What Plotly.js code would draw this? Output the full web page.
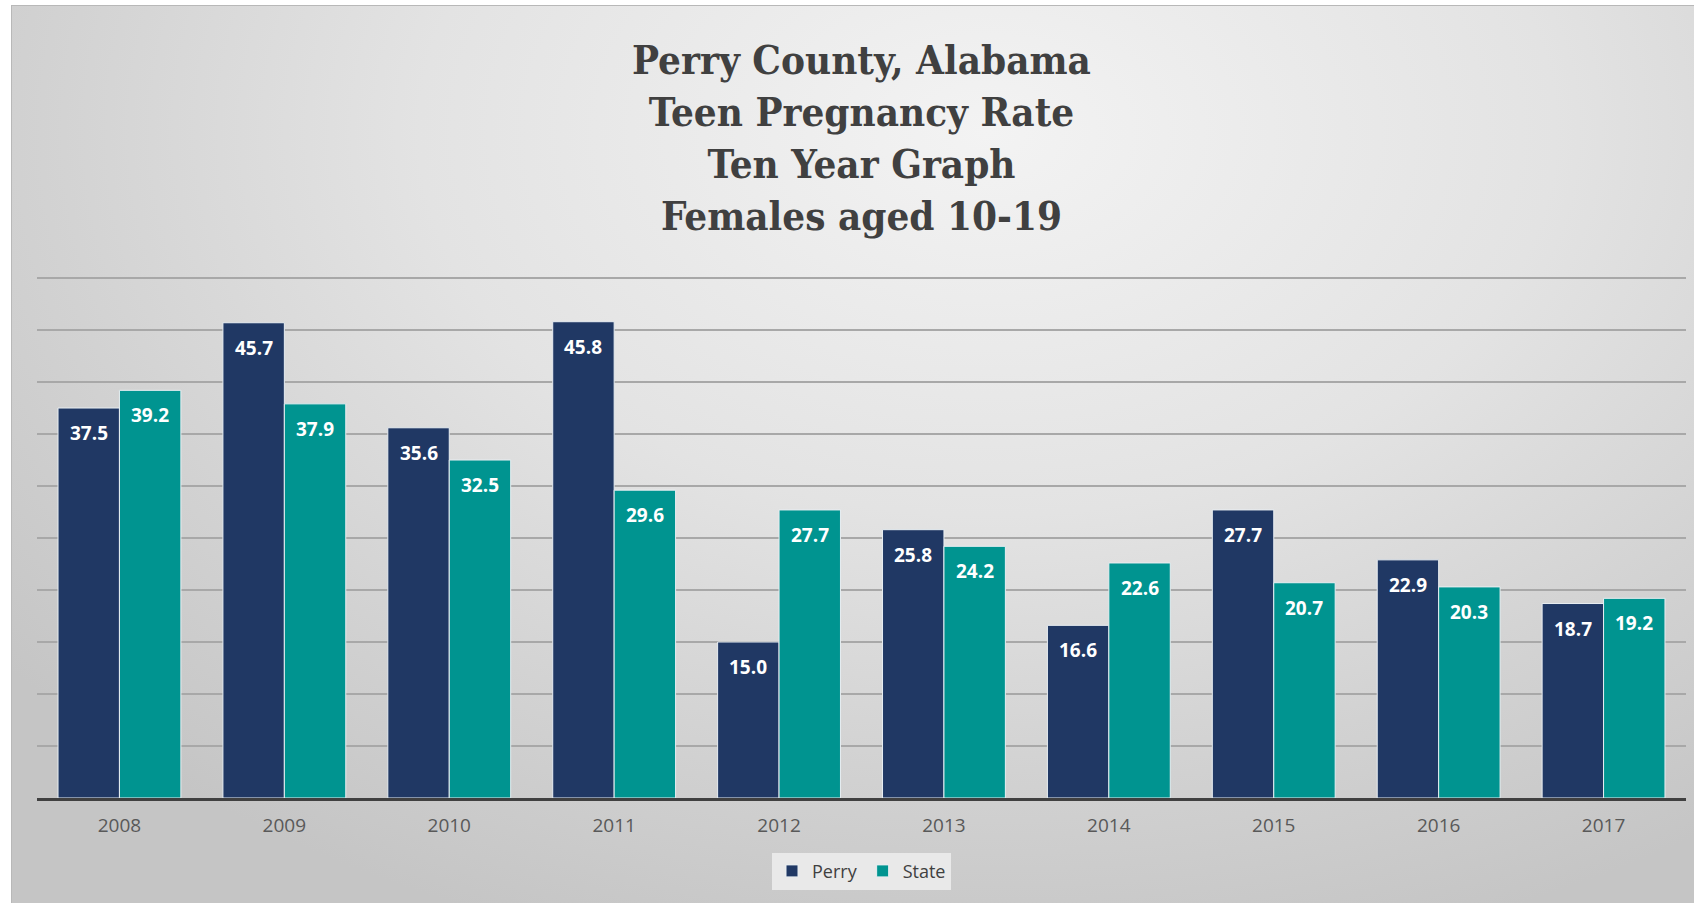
<!DOCTYPE html>
<html>
<head>
<meta charset="utf-8">
<script src="https://cdn.plot.ly/plotly-3.0.1.min.js"></script>
<style>
  html, body { margin: 0; padding: 0; background: #ffffff; width: 1694px; height: 903px; overflow: hidden; }
  #bg { position: absolute; left: 11px; top: 5px; width: 1683px; height: 898px;
        border-top: 1px solid #b8b8b8; border-left: 1px solid #b8b8b8; box-sizing: border-box;
        background: radial-gradient(ellipse 75% 95% at 58% 14%, #f3f3f3 0%, #e3e3e3 45%, #d2d2d2 75%, #c5c5c5 100%); }
  #chart { position: absolute; left: 0; top: 0; width: 1694px; height: 903px; }
</style>
</head>
<body>
<div id="bg"></div>
<div id="chart"></div>
<script>
const years = ['2008','2009','2010','2011','2012','2013','2014','2015','2016','2017'];
const perry = [37.5, 45.7, 35.6, 45.8, 15.0, 25.8, 16.6, 27.7, 22.9, 18.7];
const state = [39.2, 37.9, 32.5, 29.6, 27.7, 24.2, 22.6, 20.7, 20.3, 19.2];
const seriesNames = ['Perry', 'State'];
const titleLines = ['Perry County, Alabama', 'Teen Pregnancy Rate', 'Ten Year Graph', 'Females aged 10-19'];

const uiFont = '"Open Sans", "Liberation Sans", sans-serif';
const barLine = {color: '#e8eef2', width: 1};

const traces = [
  {type: 'bar', name: seriesNames[0], x: years, y: perry,
   marker: {color: '#203864', line: barLine}, hoverinfo: 'x+y'},
  {type: 'bar', name: seriesNames[1], x: years, y: state,
   marker: {color: '#009490', line: barLine}, hoverinfo: 'x+y'}
];

// value labels placed inside the top of each bar (category index on the x axis)
const annotations = [];
[[perry, -30.7], [state, 30.7]].forEach(([vals, shift]) => {
  vals.forEach((v, i) => {
    annotations.push({
      x: i, y: v, xref: 'x', yref: 'y', xshift: shift, yshift: -10,
      yanchor: 'top', xanchor: 'center', showarrow: false,
      text: '<b>' + v.toFixed(1) + '</b>',
      font: {family: uiFont, size: 19, color: '#ffffff'}
    });
  });
});

const layout = {
  width: 1694, height: 903,
  paper_bgcolor: 'rgba(0,0,0,0)', plot_bgcolor: 'rgba(0,0,0,0)',
  margin: {l: 37, r: 8, t: 277, b: 105},
  barmode: 'group', bargap: 0.255, bargroupgap: 0,
  title: {
    text: titleLines.map(s => '<b>' + s + '</b>').join('<br>'),
    font: {family: '"Roboto Slab", "DejaVu Serif Condensed", "DejaVu Serif", serif', size: 40, color: '#404040'},
    x: 0.5, xref: 'paper', xanchor: 'center',
    y: 0.918, yref: 'container', yanchor: 'top'
  },
  xaxis: {
    type: 'category', categoryorder: 'array', categoryarray: years,
    range: [-0.5, years.length - 0.5], autorange: false,
    showgrid: false, showline: true, linecolor: '#404040', linewidth: 3,
    ticks: '', tickfont: {family: uiFont, size: 19, color: '#595959'},
    ticklabelstandoff: 8, fixedrange: true
  },
  yaxis: {
    range: [0, 50.1], autorange: false, tick0: 0, dtick: 5, showgrid: true, gridcolor: '#a8a8a8', gridwidth: 1.5,
    showticklabels: false, zeroline: false, ticks: '', fixedrange: true
  },
  legend: {
    orientation: 'h', x: 0.5, xanchor: 'center', y: -0.105, yanchor: 'top',
    bgcolor: 'rgba(236,236,236,0.9)', font: {family: uiFont, size: 18, color: '#404040'},
    itemwidth: 30, traceorder: 'normal'
  },
  annotations: annotations,
  showlegend: true
};
Plotly.newPlot('chart', traces, layout, {displayModeBar: false, staticPlot: true});
</script>
</body>
</html>
